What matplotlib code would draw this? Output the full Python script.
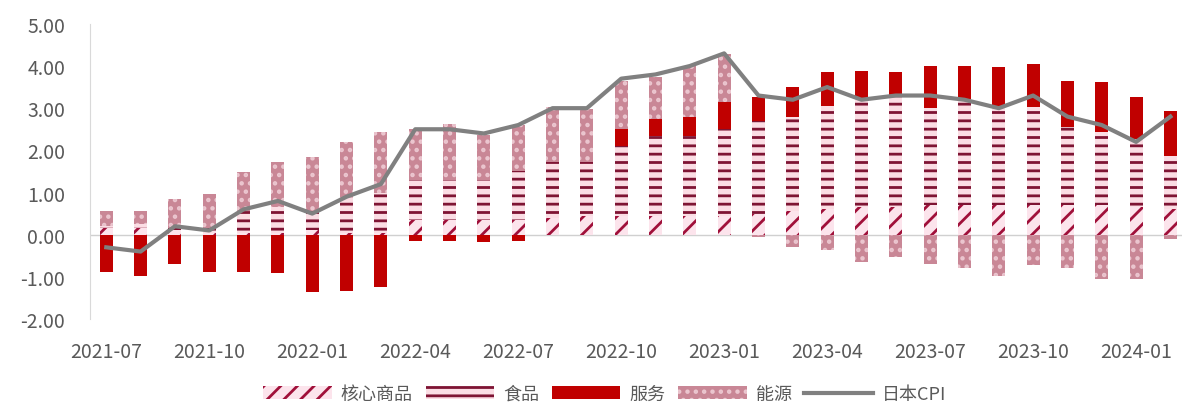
import matplotlib
matplotlib.use("Agg")
import matplotlib.pyplot as plt
import numpy as np

plt.rcParams['font.family'] = ['Noto Sans CJK SC', 'DejaVu Sans']
plt.rcParams['hatch.linewidth'] = 2.0

months = ["2021-07", "2021-08", "2021-09", "2021-10", "2021-11", "2021-12",
          "2022-01", "2022-02", "2022-03", "2022-04", "2022-05", "2022-06",
          "2022-07", "2022-08", "2022-09", "2022-10", "2022-11", "2022-12",
          "2023-01", "2023-02", "2023-03", "2023-04", "2023-05", "2023-06",
          "2023-07", "2023-08", "2023-09", "2023-10", "2023-11", "2023-12",
          "2024-01", "2024-02"]

# contributions to headline CPI, percentage points
core_goods = [0.15, 0.15, 0.10, 0.05, 0.05, 0.05, 0.10, 0.05, 0.05, 0.35, 0.35, 0.35,
              0.35, 0.40, 0.45, 0.45, 0.45, 0.45, 0.45, 0.50, 0.55, 0.60, 0.65, 0.65,
              0.70, 0.70, 0.70, 0.70, 0.70, 0.70, 0.65, 0.60]
food = [0.05, 0.10, 0.05, 0.10, 0.50, 0.60, 0.45, 0.85, 0.95, 0.95, 0.95, 0.95,
        1.17, 1.33, 1.28, 1.66, 1.90, 1.90, 2.05, 2.20, 2.25, 2.46, 2.57, 2.64,
        2.30, 2.52, 2.33, 2.33, 1.86, 1.74, 1.62, 1.27]
services = [-0.88, -0.97, -0.69, -0.88, -0.88, -0.92, -1.36, -1.33, -1.23, -0.15, -0.15, -0.17,
            -0.15, 0.00, 0.00, 0.40, 0.40, 0.43, 0.65, 0.57, 0.70, 0.80, 0.67, 0.57,
            1.00, 0.78, 0.95, 1.02, 1.09, 1.18, 1.00, 1.07]
energy = [0.37, 0.32, 0.70, 0.82, 0.94, 1.08, 1.30, 1.30, 1.44, 1.20, 1.33, 1.07,
          1.08, 1.30, 1.25, 1.14, 0.99, 1.22, 1.14, -0.05, -0.29, -0.37, -0.65, -0.53,
          -0.69, -0.80, -0.97, -0.73, -0.80, -1.04, -1.04, -0.10]
japan_cpi = [-0.3, -0.4, 0.2, 0.1, 0.6, 0.8, 0.5, 0.9, 1.2, 2.5, 2.5, 2.4,
             2.6, 3.0, 3.0, 3.7, 3.8, 4.0, 4.3, 3.3, 3.2, 3.5, 3.2, 3.3,
             3.3, 3.2, 3.0, 3.3, 2.8, 2.6, 2.2, 2.8]

x = np.arange(len(months))

fig = plt.figure(figsize=(11.86, 4.14), dpi=100)
ax = fig.add_axes([0.076, 0.227, 0.921, 0.713])

styles = [
    ("核心商品", core_goods, dict(facecolor="#FCE4EC", edgecolor="#A0103A", hatch="//")),
    ("食品", food, dict(facecolor="#FBDDE4", edgecolor="#7E1433", hatch="--")),
    ("服务", services, dict(facecolor="#C00000", edgecolor="#C00000", hatch=None)),
    ("能源", energy, dict(facecolor="#C98796", edgecolor="#EBC6CF", hatch="..")),
]

pos = np.zeros(len(x))
neg = np.zeros(len(x))
handles = []
for name, vals, st in styles:
    vals = np.array(vals)
    bottom = np.where(vals >= 0, pos, neg)
    b = ax.bar(x, vals, width=0.38, bottom=bottom, linewidth=0, label=name, **st)
    handles.append(b)
    pos = pos + np.where(vals >= 0, vals, 0)
    neg = neg + np.where(vals < 0, vals, 0)

line, = ax.plot(x, japan_cpi, color="#808080", linewidth=3, label="日本CPI", zorder=5)
handles.append(line)

ax.axhline(0, color="#D0D0D0", linewidth=1, zorder=0.5)

ax.set_ylim(-2, 5)
ax.set_xlim(-0.47, 31.35)
ax.set_yticks(np.arange(-2, 6, 1))
ax.set_yticklabels([f"{v:.2f}" for v in np.arange(-2, 6, 1)])
ax.set_xticks(x[::3])
ax.set_xticklabels(months[::3])
ax.tick_params(axis="both", length=0, labelsize=14, colors="#595959")
ax.tick_params(axis="x", pad=16)
ax.tick_params(axis="y", pad=18)

for s in ["top", "right", "bottom"]:
    ax.spines[s].set_visible(False)
ax.spines["left"].set_color("#D9D9D9")

fig.legend(handles=handles, loc="lower center", bbox_to_anchor=(0.51, -0.015), ncol=5,
           frameon=False, fontsize=13, handlelength=3.8, handletextpad=0.5,
           columnspacing=0.7, labelcolor="#595959")

fig.savefig("out.png", dpi=100)
